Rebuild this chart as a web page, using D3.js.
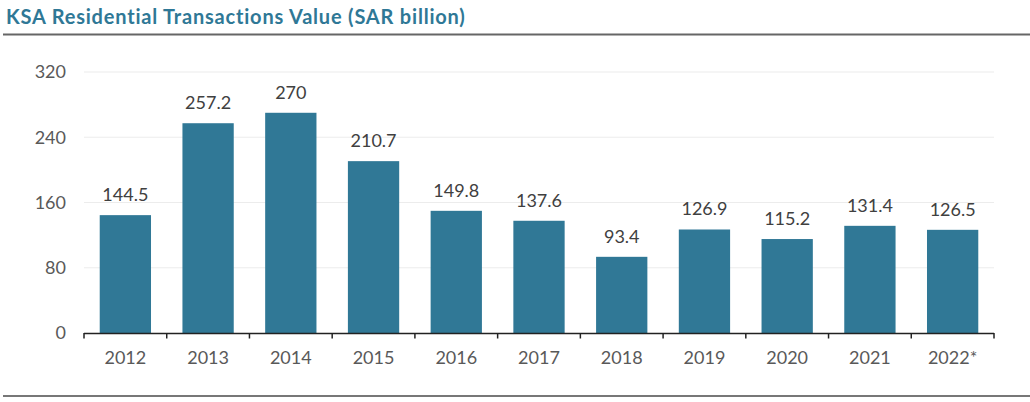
<!DOCTYPE html>
<html><head><meta charset="utf-8">
<script src="https://cdn.jsdelivr.net/npm/d3@7"></script>
<style>
body{margin:0;background:#fff;}
svg{display:block;}
</style></head>
<body>
<svg id="chart" width="1030" height="402"></svg>
<script>
const categories = ["2012","2013","2014","2015","2016","2017","2018","2019","2020","2021","2022*"];
const values = [144.5,257.2,270,210.7,149.8,137.6,93.4,126.9,115.2,131.4,126.5];
const valueLabels = ["144.5","257.2","270","210.7","149.8","137.6","93.4","126.9","115.2","131.4","126.5"];
const yTicks = [0,80,160,240,320];
const title = "KSA Residential Transactions Value (SAR billion)";

const svg = d3.select("#chart");
const font = "Lato, 'Open Sans', sans-serif";

svg.append("text").attr("x",6).attr("y",24)
  .attr("font-family",font).attr("font-weight","bold").attr("font-size",20)
  .attr("letter-spacing",0.8)
  .attr("fill","#2F7896").text(title);
svg.append("line").attr("x1",3).attr("x2",1030).attr("y1",34.5).attr("y2",34.5)
  .attr("stroke","#666").attr("stroke-width",2);
svg.append("line").attr("x1",3).attr("x2",1030).attr("y1",396).attr("y2",396)
  .attr("stroke","#777").attr("stroke-width",2);

const x = d3.scaleBand().domain(categories).range([84,994]).paddingInner(0.38).paddingOuter(0.19);
const y = d3.scaleLinear().domain([0,320]).range([333,72]);

// gridlines
svg.append("g").selectAll("line").data(yTicks.filter(d=>d>0)).join("line")
  .attr("x1",84).attr("x2",994).attr("y1",d=>y(d)).attr("y2",d=>y(d))
  .attr("stroke","#ececec").attr("stroke-width",1.2);

// y axis labels
const yAxis = d3.axisLeft(y).tickValues(yTicks).tickSize(0).tickPadding(18);
const gy = svg.append("g").attr("transform","translate(84,0)").call(yAxis);
gy.select(".domain").remove();
gy.selectAll("text").attr("font-family",font).attr("font-size",18).attr("fill","#595959");

// bars
svg.append("g").selectAll("rect").data(values).join("rect")
  .attr("x",(d,i)=>x(categories[i])).attr("width",x.bandwidth())
  .attr("y",d=>y(d)).attr("height",d=>y(0)-y(d))
  .attr("fill","#307896");

// value labels
svg.append("g").selectAll("text").data(values).join("text")
  .attr("x",(d,i)=>x(categories[i])+x.bandwidth()/2).attr("y",d=>y(d)-14)
  .attr("text-anchor","middle").attr("font-family",font).attr("font-size",18)
  .attr("fill","#404040").text((d,i)=>valueLabels[i]);

// x axis
const gx = svg.append("g").attr("transform","translate(0,333)");
gx.append("line").attr("x1",84).attr("x2",994).attr("y1",0.5).attr("y2",0.5).attr("stroke","#222").attr("stroke-width",1.5);
const bounds = d3.range(categories.length+1).map(i=>84+i*(910/categories.length));
gx.selectAll("line.tk").data(bounds).join("line").attr("class","tk")
  .attr("x1",d=>d).attr("x2",d=>d).attr("y1",0).attr("y2",5.5).attr("stroke","#222").attr("stroke-width",1.5);
gx.selectAll("text").data(categories).join("text")
  .attr("x",d=>x(d)+x.bandwidth()/2).attr("y",31)
  .attr("text-anchor","middle").attr("font-family",font).attr("font-size",18)
  .attr("fill","#595959").text(d=>d);
</script>
</body></html>
